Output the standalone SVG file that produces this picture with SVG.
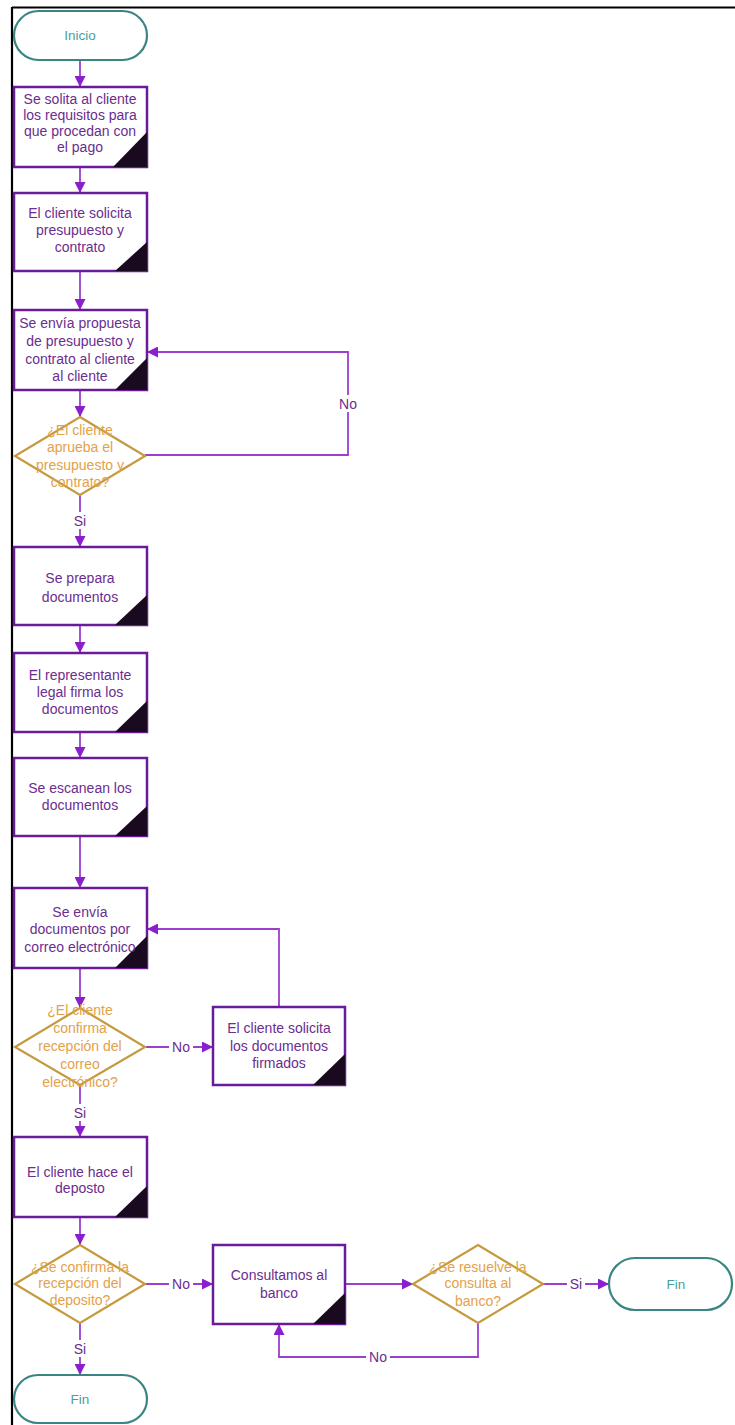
<svg xmlns="http://www.w3.org/2000/svg" width="735" height="1425" viewBox="0 0 735 1425">
<defs>
<style>
.box{fill:#fff;stroke:#6a1b9a;stroke-width:2.5}
.tri{fill:#1a0a1f}
.dia{fill:#fff;stroke:#c59a3e;stroke-width:2.2}
.term{fill:#fff;stroke:#3a8581;stroke-width:2.2}
.bt{font-family:"Liberation Sans",Arial,sans-serif;font-size:14px;fill:#6b2d8f;text-anchor:middle}
.dt{font-family:"Liberation Sans",Arial,sans-serif;font-size:14px;fill:#e3a14a;text-anchor:middle}
.tt{font-family:"Liberation Sans",Arial,sans-serif;font-size:13.5px;fill:#4a9e9a;text-anchor:middle}
.lt{font-family:"Liberation Sans",Arial,sans-serif;font-size:14px;fill:#6b2d8f;text-anchor:middle}
.con{fill:none;stroke:#9b3fcf;stroke-width:1.8}
.lbg{fill:#fff}
</style>
<marker id="arr" viewBox="0 0 10 10" refX="10" refY="5" markerWidth="11" markerHeight="11" markerUnits="userSpaceOnUse" orient="auto">
<path d="M0,0 L10,5 L0,10 z" fill="#8a1fd0"/>
</marker>
</defs>
<rect width="735" height="1425" fill="#fff"/>
<g id="frame">
<line x1="12" y1="7.5" x2="735" y2="7.5" stroke="#000" stroke-width="2"/>
<line x1="12" y1="7" x2="12" y2="1425" stroke="#000" stroke-width="2.2"/>
</g>

<g id="connectors">
<path class="con" d="M80,60 V87" marker-end="url(#arr)"/>
<path class="con" d="M80,167 V193" marker-end="url(#arr)"/>
<path class="con" d="M80,271 V310" marker-end="url(#arr)"/>
<path class="con" d="M80,390 V417" marker-end="url(#arr)"/>
<path class="con" d="M145,455 H348 V352 H147" marker-end="url(#arr)"/>
<rect class="lbg" x="337" y="395" width="22" height="17"/>
<text class="lt" x="348" y="409">No</text>
<path class="con" d="M80,495 V547" marker-end="url(#arr)"/>
<rect class="lbg" x="70" y="512" width="20" height="17"/>
<text class="lt" x="80" y="526">Si</text>
<path class="con" d="M80,625 V653" marker-end="url(#arr)"/>
<path class="con" d="M80,732 V758" marker-end="url(#arr)"/>
<path class="con" d="M80,836 V888" marker-end="url(#arr)"/>
<path class="con" d="M80,968 V1008" marker-end="url(#arr)"/>
<path class="con" d="M146,1047 H213" marker-end="url(#arr)"/>
<rect class="lbg" x="169" y="1039" width="24" height="17"/>
<text class="lt" x="181" y="1052">No</text>
<path class="con" d="M279,1007 V929 H147" marker-end="url(#arr)"/>
<path class="con" d="M80,1085 V1137" marker-end="url(#arr)"/>
<rect class="lbg" x="70" y="1104" width="20" height="17"/>
<text class="lt" x="80" y="1118">Si</text>
<path class="con" d="M80,1217 V1245" marker-end="url(#arr)"/>
<path class="con" d="M145,1284 H213" marker-end="url(#arr)"/>
<rect class="lbg" x="169" y="1276" width="24" height="17"/>
<text class="lt" x="181" y="1289">No</text>
<path class="con" d="M345,1284 H413" marker-end="url(#arr)"/>
<path class="con" d="M543,1284 H609" marker-end="url(#arr)"/>
<rect class="lbg" x="567" y="1276" width="18" height="17"/>
<text class="lt" x="576" y="1289">Si</text>
<path class="con" d="M478,1323 V1357 H279 V1324" marker-end="url(#arr)"/>
<rect class="lbg" x="366" y="1349" width="24" height="17"/>
<text class="lt" x="378" y="1362">No</text>
<path class="con" d="M80,1323 V1375" marker-end="url(#arr)"/>
<rect class="lbg" x="70" y="1340" width="20" height="17"/>
<text class="lt" x="80" y="1354">Si</text>
</g>

<g id="inicio">
<rect class="term" x="14" y="11" width="133" height="49" rx="24.5"/>
<text class="tt" x="80" y="40">Inicio</text>
</g>

<g id="n1">
<rect class="box" x="14" y="87" width="133" height="80"/>
<path class="tri" d="M113,167 H147 V132 z"/>
<text class="bt" x="80" y="104">Se solita al cliente</text>
<text class="bt" x="80" y="120">los requisitos para</text>
<text class="bt" x="80" y="136">que procedan con</text>
<text class="bt" x="80" y="152">el pago</text>
</g>

<g id="n2">
<rect class="box" x="14" y="193" width="133" height="78"/>
<path class="tri" d="M115,271 H147 V242 z"/>
<text class="bt" x="80" y="218">El cliente solicita</text>
<text class="bt" x="80" y="235">presupuesto y</text>
<text class="bt" x="80" y="252">contrato</text>
</g>

<g id="n3">
<rect class="box" x="14" y="310" width="133" height="80"/>
<path class="tri" d="M115,390 H147 V358 z"/>
<text class="bt" x="80" y="328">Se envía propuesta</text>
<text class="bt" x="80" y="346">de presupuesto y</text>
<text class="bt" x="80" y="364">contrato al cliente</text>
<text class="bt" x="80" y="381">al cliente</text>
</g>

<g id="d1">
<path class="dia" d="M80,417 L145,456 L80,495 L15,456 z"/>
<text class="dt" x="80" y="435">¿El cliente</text>
<text class="dt" x="80" y="452">aprueba el</text>
<text class="dt" x="80" y="470">presupuesto y</text>
<text class="dt" x="80" y="487">contrato?</text>
</g>

<g id="n4">
<rect class="box" x="14" y="547" width="133" height="78"/>
<path class="tri" d="M115,625 H147 V595 z"/>
<text class="bt" x="80" y="583">Se prepara</text>
<text class="bt" x="80" y="602">documentos</text>
</g>

<g id="n5">
<rect class="box" x="14" y="653" width="133" height="79"/>
<path class="tri" d="M115,732 H147 V701 z"/>
<text class="bt" x="80" y="680">El representante</text>
<text class="bt" x="80" y="697">legal firma los</text>
<text class="bt" x="80" y="714">documentos</text>
</g>

<g id="n6">
<rect class="box" x="14" y="758" width="133" height="78"/>
<path class="tri" d="M115,836 H147 V806 z"/>
<text class="bt" x="80" y="793">Se escanean los</text>
<text class="bt" x="80" y="810">documentos</text>
</g>

<g id="n7">
<rect class="box" x="14" y="888" width="133" height="80"/>
<path class="tri" d="M115,968 H147 V936 z"/>
<text class="bt" x="80" y="917">Se envía</text>
<text class="bt" x="80" y="934">documentos por</text>
<text class="bt" x="80" y="952">correo electrónico</text>
</g>

<g id="d2">
<path class="dia" d="M80,1008 L145,1047 L80,1085 L15,1047 z"/>
<text class="dt" x="80" y="1015">¿El cliente</text>
<text class="dt" x="80" y="1033">confirma</text>
<text class="dt" x="80" y="1051">recepción del</text>
<text class="dt" x="80" y="1069">correo</text>
<text class="dt" x="80" y="1087">electrónico?</text>
</g>

<g id="n8">
<rect class="box" x="213" y="1007" width="132" height="78"/>
<path class="tri" d="M313,1085 H345 V1054 z"/>
<text class="bt" x="279" y="1033">El cliente solicita</text>
<text class="bt" x="279" y="1051">los documentos</text>
<text class="bt" x="279" y="1068">firmados</text>
</g>

<g id="n9">
<rect class="box" x="14" y="1137" width="133" height="80"/>
<path class="tri" d="M115,1217 H147 V1186 z"/>
<text class="bt" x="80" y="1177">El cliente hace el</text>
<text class="bt" x="80" y="1193">deposto</text>
</g>

<g id="d3">
<path class="dia" d="M80,1245 L145,1284 L80,1323 L15,1284 z"/>
<text class="dt" x="80" y="1272">¿Se confirma la</text>
<text class="dt" x="80" y="1288">recepción del</text>
<text class="dt" x="80" y="1305">deposito?</text>
</g>

<g id="n10">
<rect class="box" x="213" y="1245" width="132" height="79"/>
<path class="tri" d="M313,1324 H345 V1293 z"/>
<text class="bt" x="279" y="1280">Consultamos al</text>
<text class="bt" x="279" y="1298">banco</text>
</g>

<g id="d4">
<path class="dia" d="M478,1245 L543,1284 L478,1323 L413,1284 z"/>
<text class="dt" x="478" y="1272">¿Se resuelve la</text>
<text class="dt" x="478" y="1288">consulta al</text>
<text class="dt" x="478" y="1306">banco?</text>
</g>

<g id="fin2">
<rect class="term" x="609" y="1258" width="123" height="52" rx="26"/>
<text class="tt" x="676" y="1289">Fin</text>
</g>

<g id="fin1">
<rect class="term" x="14" y="1375" width="133" height="48" rx="24"/>
<text class="tt" x="80" y="1404">Fin</text>
</g>
</svg>
